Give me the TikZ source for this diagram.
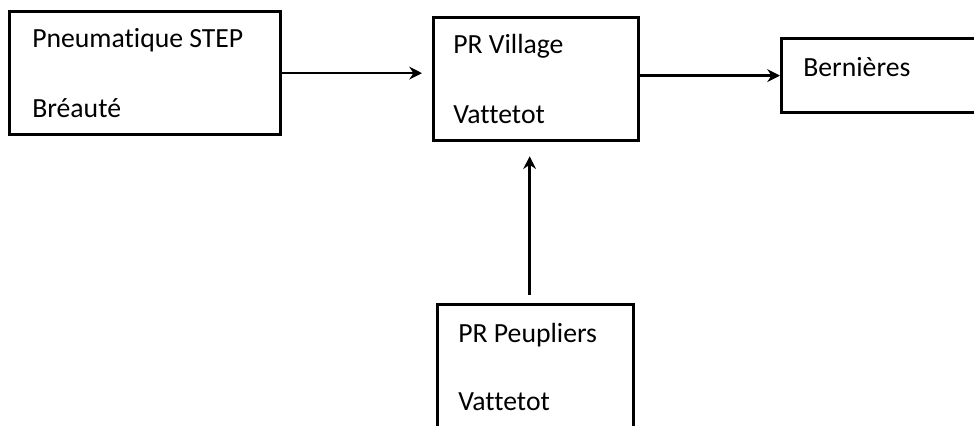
\documentclass[tikz,border=0pt]{standalone}
\usepackage{fontspec}
\setmainfont[Ligatures=NoCommon]{Carlito}
\usetikzlibrary{arrows.meta}

\begin{document}
\begin{tikzpicture}[x=0.025cm, y=-0.025cm,
    station/.style={draw, rectangle, line width=2.3pt, anchor=north west, inner sep=0pt},
    stationtext/.style={anchor=base west, inner sep=0pt, font=\fontsize{19.7}{24}\selectfont},
    flow/.style={line width=1.8pt, -{Stealth[length=9pt, width=9pt]}}]
    \useasboundingbox (0, 0) rectangle (974, 426);
    \clip (0, 0) rectangle (974, 426);

    \node [station, minimum width=6.775cm, minimum height=3.075cm] (step) at (8, 10) {};
    \node [station, minimum width=5.125cm, minimum height=3.075cm] (village) at (432, 16) {};
    \node [station, minimum width=5.5cm, minimum height=1.85cm] (bernieres) at (780, 37) {};
    \node [station, minimum width=4.9cm, minimum height=3.75cm] (peupliers) at (436, 303) {};

    \node [stationtext] (stepname) at (32, 48) {Pneumatique STEP};
    \node [stationtext] (steptown) at (32, 118) {Bréauté};
    \node [stationtext] (villagename) at (453, 54) {PR Village};
    \node [stationtext] (villagetown) at (453, 124) {Vattetot};
    \node [stationtext] (bernieresname) at (803, 77) {Bernières};
    \node [stationtext] (peupliersname) at (458, 342) {PR Peupliers};
    \node [stationtext] (peuplierstown) at (458, 410) {Vattetot};

    \draw [flow] (step.east) -- ([xshift=-0.25cm] step.east -| village.west);
    \draw [flow] (village.east |- bernieres.west) -- (bernieres.west);
    \draw [flow, shorten <=0.2cm, shorten >=0.35cm] ([xshift=-0.15cm] peupliers.north) -- ([xshift=-0.15cm] peupliers.north |- village.south);
\end{tikzpicture}
\end{document}
